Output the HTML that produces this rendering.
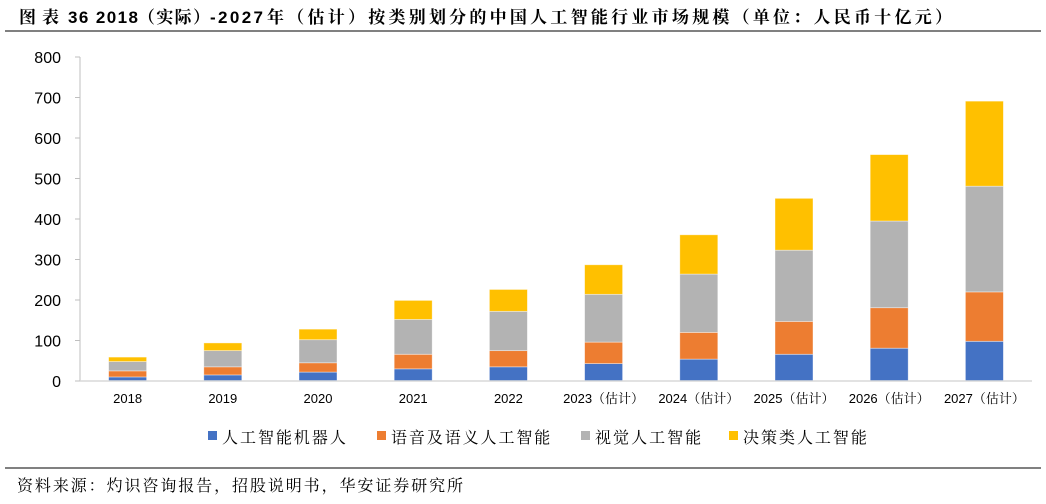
<!DOCTYPE html>
<html><head><meta charset="utf-8">
<style>
body{margin:0;background:#fff;width:1046px;height:499px;overflow:hidden;font-family:"Liberation Sans","Noto Serif CJK SC",serif;}
svg text{font-family:"Liberation Sans","Noto Serif CJK SC",serif;}
</style></head>
<body>
<svg id="chart" width="1046" height="499">
<g font-size="17" font-weight="bold" fill="#000">
<text x="19" y="23" textLength="40" lengthAdjust="spacing">图表</text>
<text x="68" y="23" textLength="70" lengthAdjust="spacing">36 2018</text>
<text x="138" y="23" textLength="72" lengthAdjust="spacing">（实际）</text>
<text x="210" y="23" textLength="53" lengthAdjust="spacing">-2027</text>
<text x="267" y="23" textLength="685" lengthAdjust="spacing">年（估计）按类别划分的中国人工智能行业市场规模（单位：人民币十亿元）</text>
</g>
<line x1="5" y1="31" x2="1041" y2="31" stroke="#000" stroke-width="1"/>
<line x1="5" y1="468" x2="1041" y2="468" stroke="#000" stroke-width="1"/>
<text x="17" y="491" font-size="16" fill="#000" textLength="446" lengthAdjust="spacing">资料来源：灼识咨询报告，招股说明书，华安证券研究所</text>
<g id="plot"></g>
</svg>
<script>
const categories=["2018","2019","2020","2021","2022","2023（估计）","2024（估计）","2025（估计）","2026（估计）","2027（估计）"];
const robots=[10,15,22,30,35,43,54,66,81,98];
const speech=[15,20,23,36,40,53,66,81,100,122];
const vision=[23,40,57,86,97,118,144,176,214,261];
const decision=[11,19,26,47,54,73,97,128,164,210];
const seriesNames=["人工智能机器人","语音及语义人工智能","视觉人工智能","决策类人工智能"];
const yTicks=[0,100,200,300,400,500,600,700,800];
const colors=["#4472C4","#ED7D31","#B3B3B3","#FFC000"];
const ns="http://www.w3.org/2000/svg";
const g=document.getElementById('plot');
const x0=80,x1=1032,y0=381,yTop=57,yMax=800;
const band=(x1-x0)/categories.length;
const yS=v=>y0-(v/yMax)*(y0-yTop);
const xC=i=>x0+band*(i+0.5);
function mk(t,a){const e=document.createElementNS(ns,t);for(const k in a)e.setAttribute(k,a[k]);g.appendChild(e);return e;}
let ax=mk('line',{x1:x0,y1:yTop,x2:x0,y2:y0,stroke:'#bfbfbf'});


yTicks.forEach(v=>{
 const tk=mk('line',{x1:x0-5,y1:yS(v),x2:x0,y2:yS(v),stroke:'#bfbfbf'});
 
 
 const t=mk('text',{x:61,y:yS(v)+6,'font-size':16,'text-anchor':'end',fill:'#000'});
 t.textContent=v;
 
 
});
const series=[robots,speech,vision,decision];
const bw=38;
categories.forEach((c,i)=>{
 let acc=0;
 series.forEach((s,k)=>{
  const top=yS(acc+s[i]),bot=yS(acc);
  const r=mk('rect',{x:xC(i)-bw/2,y:top,width:bw,height:bot-top,fill:colors[k],stroke:'#fff','stroke-opacity':0.5,'stroke-width':0.8});
  
  
  acc+=s[i];
 });
 const t=mk('text',{x:xC(i),y:403,'font-size':13,'text-anchor':'middle',fill:'#000'});
 t.textContent=c;
 
 
});
let xa=mk('line',{x1:x0,y1:y0,x2:x1,y2:y0,stroke:'#d9d9d9','stroke-width':1.5});


const lx=[208,377,581,729];
seriesNames.forEach((n,k)=>{
 const r=mk('rect',{x:lx[k],y:431,width:9,height:9,fill:colors[k]});
 
 
 const t=mk('text',{x:lx[k]+14,y:443,'font-size':16,fill:'#000',textLength:n.length*17.7,lengthAdjust:'spacing'});
 t.textContent=n;
 
 
});
</script>
</body></html>
